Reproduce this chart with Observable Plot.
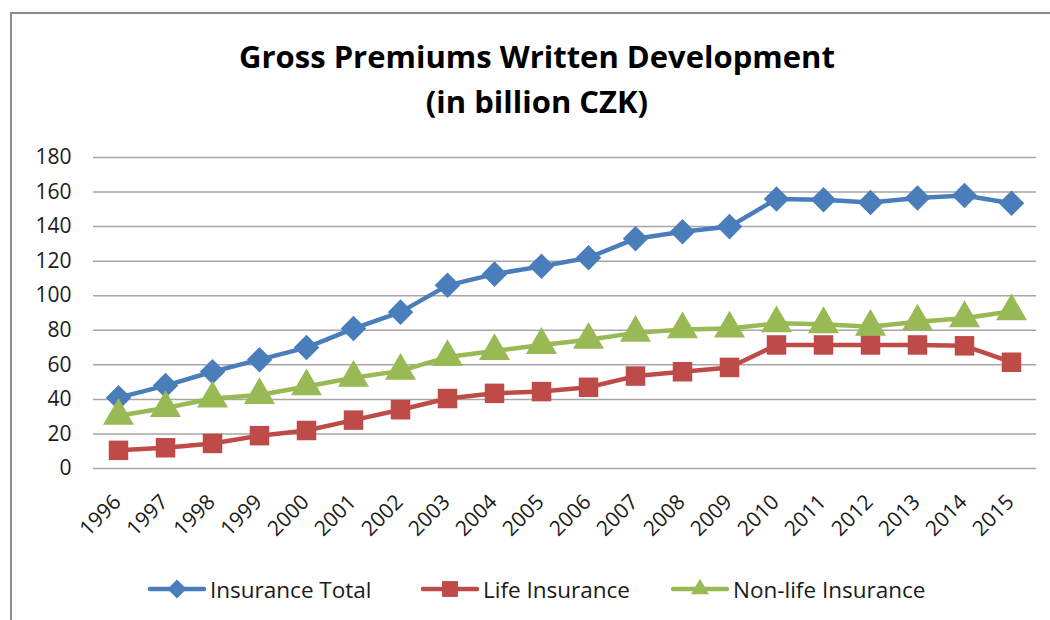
<!DOCTYPE html>
<html>
<head>
<meta charset="utf-8">
<script src="https://cdn.jsdelivr.net/npm/d3@7"></script>
<script src="https://cdn.jsdelivr.net/npm/@observablehq/plot@0.6"></script>
<style>
  html, body { margin: 0; padding: 0; background: #fff; }
  body { width: 1050px; height: 620px; overflow: hidden; position: relative; font-family: "Open Sans", Lato, sans-serif; color: #1a1a1a; }
  #frame { position: absolute; left: 10px; top: 12px; width: 1050px; height: 620px; border-top: 2px solid #8c8c8c; border-left: 2px solid #8c8c8c; }
  #title { position: absolute; left: 0; top: 34px; width: 1074px; text-align: center; font-weight: bold; font-size: 31px; line-height: 45px; color: #000; }
  #chart { position: absolute; left: 0; top: 140px; }
  #legend { position: absolute; top: 574px; left: 0; width: 1050px; height: 30px; font-size: 22.5px; }
  .item { position: absolute; top: 0; display: flex; align-items: center; height: 30px; }
  .item svg { margin-right: 4px; }
</style>
</head>
<body>
<div id="frame"></div>
<div id="title">Gross Premiums Written Development<br>(in billion CZK)</div>
<div id="chart"></div>
<div id="legend"></div>
<script>
const years = ["1996","1997","1998","1999","2000","2001","2002","2003","2004","2005","2006","2007","2008","2009","2010","2011","2012","2013","2014","2015"];
const insuranceTotal = [41, 48, 56, 63, 70, 81, 90.5, 106, 112.5, 117, 122, 133, 137, 140, 156, 155.5, 154, 156.5, 158, 153.5];
const lifeInsurance = [10.5, 12, 14.5, 19, 22, 28, 34, 40.5, 43.5, 44.5, 47, 53.5, 56, 58.5, 71.5, 71.5, 71.5, 71.5, 71, 61.5];
const nonLifeInsurance = [30.5, 35, 40.5, 42.5, 47.5, 52.5, 56.5, 64.5, 68, 71.5, 74.5, 78.5, 80.5, 81, 84, 83.5, 82, 85, 87, 91];
const yTicks = [0, 20, 40, 60, 80, 100, 120, 140, 160, 180];

const seriesNames = ["Insurance Total", "Life Insurance", "Non-life Insurance"];
const seriesColors = ["#4a7ebb", "#be4b48", "#98b954"];
const seriesSymbols = ["diamond2", "square", "triangle"];
const seriesValues = [insuranceTotal, lifeInsurance, nonLifeInsurance];

const data = seriesNames.flatMap((name, i) => years.map((y, j) => ({series: name, year: y, value: seriesValues[i][j]})));

const symbolR = {"Insurance Total": 11.5, "Life Insurance": 11, "Non-life Insurance": 11.5};

const marks = [
  Plot.gridY(yTicks, {stroke: "#a6a6a6", strokeOpacity: 1, strokeWidth: 1.5}),
  Plot.axisY(yTicks, {tickSize: 0, tickPadding: 22, fontSize: 21, fill: "#1a1a1a"}),
  Plot.axisX({tickSize: 0, tickRotate: -45, fontSize: 21, fill: "#1a1a1a", tickPadding: 30, dx: -1})
];
seriesNames.forEach((name, i) => {
  const d = data.filter(r => r.series === name);
  marks.push(Plot.lineY(d, {x: "year", y: "value", stroke: seriesColors[i], strokeWidth: 4.5}));
  marks.push(Plot.dot(d, {x: "year", y: "value", fill: seriesColors[i], symbol: seriesSymbols[i], r: symbolR[name], stroke: "none"}));
});

const chart = Plot.plot({
  width: 1050,
  height: 420,
  marginLeft: 93,
  marginRight: 14,
  marginTop: 17,
  marginBottom: 92,
  style: {fontFamily: "'Open Sans', Lato, sans-serif", background: "transparent"},
  x: {type: "point", domain: years, padding: 0.5, label: null},
  y: {domain: [0, 180], label: null},
  marks
});
document.getElementById("chart").appendChild(chart);

// legend
const legendX = [148, 421, 671];
const legend = document.getElementById("legend");
seriesNames.forEach((name, i) => {
  const item = document.createElement("div");
  item.className = "item";
  item.style.left = legendX[i] + "px";
  const svg = d3.create("svg").attr("width", 58).attr("height", 30);
  svg.append("line").attr("x1", 2).attr("x2", 56).attr("y1", 15).attr("y2", 15)
    .attr("stroke", seriesColors[i]).attr("stroke-width", 4.5).attr("stroke-linecap", "round");
  const sym = {diamond2: d3.symbolDiamond2, square: d3.symbolSquare2, triangle: d3.symbolTriangle2}[seriesSymbols[i]];
  svg.append("path").attr("transform", "translate(29,15)")
    .attr("d", d3.symbol(sym, seriesSymbols[i] === "square" ? 320 : 230)).attr("fill", seriesColors[i]);
  item.appendChild(svg.node());
  const span = document.createElement("span");
  span.textContent = name;
  item.appendChild(span);
  legend.appendChild(item);
});
</script>
</body>
</html>
